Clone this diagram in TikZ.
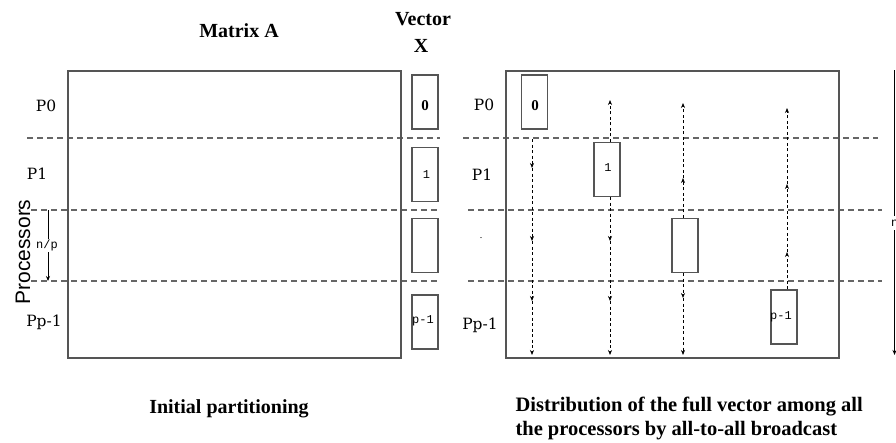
\documentclass[tikz,border=0pt]{standalone}
\usepackage{fontspec}
\setmainfont{Liberation Serif}
\setsansfont{Liberation Sans}
\setmonofont{Liberation Mono}
\newfontfamily\plabfont{DejaVu Serif}
\usetikzlibrary{arrows.meta}
\definecolor{edgegray}{HTML}{555555}
\definecolor{sepgray}{HTML}{666666}
\tikzset{
  matbox/.style={draw=edgegray, line width=1.2pt, minimum width=333pt, minimum height=287pt, inner sep=0pt},
  vbox/.style={draw=edgegray, line width=1.1pt, minimum width=26pt, minimum height=54pt, inner sep=0pt},
  sepline/.style={draw=sepgray, line width=1.2pt, dash pattern=on 6pt off 4pt},
  bcast/.style={line width=0.7pt, dash pattern=on 3pt off 2.5pt, -{Stealth[length=5pt,width=4pt]}},
  title/.style={font=\fontsize{20}{23}\selectfont\bfseries},
  plab/.style={font=\plabfont\fontsize{15.5}{18}\selectfont},
  boxlab/.style={font=\ttfamily\fontsize{12}{14}\selectfont},
  zerolab/.style={font=\fontsize{15}{17}\selectfont\bfseries},
  nplab/.style={font=\ttfamily\fontsize{12}{14}\selectfont, fill=white, inner sep=1pt},
}
\begin{document}
\begin{tikzpicture}[x=1pt, y=-1pt]
\useasboundingbox (0,0) rectangle (896,442);

% ---------- titles ----------
\node[title] (tA) at (239,31) {Matrix A};
\node[title] (tV) at (423,19) {Vector};
\node[title] (tX) at (421,46) {X};

% ---------- left panel ----------
\draw[sepline] (27,138) -- (440,138);
\draw[sepline] (31,210) -- (440,210);
\draw[sepline] (31,281) -- (440,281);

\node[matbox] (A) at (234.5,214.5) {};

\node[vbox] (x0) at (425,102) {};
\node[vbox] (x1) at (425,174.5) {};
\node[vbox] (x2) at (425,245.5) {};
\node[vbox] (x3) at (425,322) {};
\node[zerolab] at (425,106) {0};
\node[boxlab] at (426.5,175) {1};
\node[boxlab, anchor=west, inner sep=0pt] at (412,321) {p-1};

\node[plab] (lp0) at (46,106) {P0};
\node[plab] (lp1) at (37,174) {P1};
\node[plab] (lpp) at (44,322) {Pp-1};

\node[font=\sffamily\fontsize{21}{24}\selectfont, rotate=90] (proc) at (23,252) {Processors};

\coordinate (npt) at (48,210);
\coordinate (npb) at (48,281);
\draw[line width=0.8pt, -{Stealth[length=5pt,width=4pt]}] (npt) -- (npb)
  node[nplab, midway, xshift=-1pt] {n/p};

\node[title, anchor=base] (cap1) at (229,413) {Initial partitioning};

% ---------- right panel ----------
\draw[sepline] (463,138) -- (878,138);
\draw[sepline] (468,210) -- (882,210);
\draw[sepline] (468,281) -- (882,281);

\node[matbox] (B) at (672.5,214.5) {};

\node[vbox] (y0) at (534.5,102) {};
\node[vbox] (y1) at (607,169.5) {};
\node[vbox] (y2) at (685,245.5) {};
\node[vbox] (y3) at (784,317) {};
\node[zerolab] at (535,106) {0};
\node[boxlab] at (608,168) {1};
\node[boxlab, anchor=west, inner sep=0pt] at (770,317) {p-1};

\node[plab] (rp0) at (484,105) {P0};
\node[plab] (rp1) at (482,175) {P1};
\node[plab] (rpp) at (480,325) {Pp-1};
\node[font=\fontsize{10}{12}\selectfont] (dot) at (481,238) {.};

% column 1 (from P0)
\coordinate (c1a) at (532,139);
\coordinate (c1b) at (532,168);
\coordinate (c1c) at (532,241);
\coordinate (c1d) at (532,301);
\coordinate (c1e) at (532,355);
\draw[bcast] (c1a) -- (c1b);
\draw[bcast] (c1b) -- (c1c);
\draw[bcast] (c1c) -- (c1d);
\draw[bcast] (c1d) -- (c1e);

% column 2 (from P1)
\coordinate (c2u) at (610,100);
\coordinate (c2c) at (610,241);
\coordinate (c2d) at (610,301);
\coordinate (c2e) at (610,355);
\draw[bcast] (y1.north -| c2u) -- (c2u);
\draw[bcast] (y1.south -| c2u) -- (c2c);
\draw[bcast] (c2c) -- (c2d);
\draw[bcast] (c2d) -- (c2e);

% column 3 (from P2)
\coordinate (c3u2) at (683,178);
\coordinate (c3u1) at (683,103);
\coordinate (c3d) at (683,298);
\coordinate (c3e) at (683,355);
\draw[bcast] (y2.north -| c3u1) -- (c3u2);
\draw[bcast] (c3u2) -- (c3u1);
\draw[bcast] (y2.south -| c3u1) -- (c3d);
\draw[bcast] (c3d) -- (c3e);

% column 4 (from Pp-1)
\coordinate (c4a) at (787,252);
\coordinate (c4b) at (787,184);
\coordinate (c4c) at (787,108);
\draw[bcast] (y3.north -| c4a) -- (c4a);
\draw[bcast] (c4a) -- (c4b);
\draw[bcast] (c4b) -- (c4c);

% clipped n/p arrow at right edge
\coordinate (rnt) at (894.5,70);
\coordinate (rnb) at (894.5,355);
\draw[line width=1pt, -{Stealth[length=5pt,width=4pt]}] (rnt) -- (rnb);
\node[nplab] (rnp) at (902,223) {n/p};

\node[title, anchor=north west, align=left, font=\fontsize{20.5}{24}\selectfont\bfseries] (cap2) at (512,394)
  {Distribution of the full vector among all\\the processors by all-to-all broadcast};
\end{tikzpicture}
\end{document}
